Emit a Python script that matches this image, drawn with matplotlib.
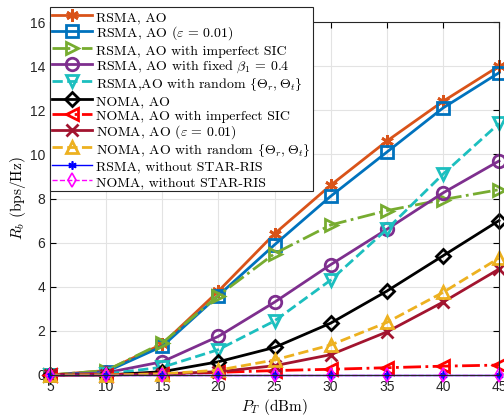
import numpy as np
from matplotlib import pyplot as plt

plt.rcParams['mathtext.fontset'] = 'cm'
plt.rcParams['axes.unicode_minus'] = False

pt = [5, 10, 15, 20, 25, 30, 35, 40, 45]

rsma_ao = [0.0, 0.2, 1.4, 3.8, 6.4, 8.6, 10.6, 12.4, 14.0]
rsma_eps = [0.0, 0.15, 1.3, 3.6, 5.9, 8.1, 10.1, 12.1, 13.7]
rsma_isic = [0.0, 0.2, 1.45, 3.6, 5.5, 6.8, 7.45, 7.95, 8.4]
rsma_fixed = [0.0, 0.1, 0.6, 1.75, 3.3, 5.0, 6.6, 8.25, 9.7]
rsma_rand = [0.0, 0.05, 0.35, 1.15, 2.45, 4.3, 6.6, 9.1, 11.4]
noma_ao = [0.0, 0.0, 0.15, 0.6, 1.25, 2.35, 3.8, 5.4, 7.0]
noma_isic = [0.0, 0.02, 0.05, 0.12, 0.2, 0.26, 0.33, 0.4, 0.45]
noma_eps = [0.0, 0.0, 0.05, 0.15, 0.42, 0.92, 1.95, 3.3, 4.8]
noma_rand = [0.0, 0.0, 0.05, 0.22, 0.68, 1.36, 2.38, 3.74, 5.3]
rsma_wo = [0.0, 0.0, 0.0, 0.0, 0.0, 0.0, 0.0, 0.0, 0.0]
noma_wo = [0.0, 0.0, 0.0, 0.0, 0.0, 0.0, 0.0, 0.0, 0.0]

labels = [
    'RSMA, AO',
    r'RSMA, AO ($\varepsilon\,=\,0.01$)',
    'RSMA, AO with imperfect SIC',
    r'RSMA, AO with fixed $\beta_1\,=\,0.4$',
    r'RSMA,AO with random $\lbrace\mathbf{\Theta}_r,\mathbf{\Theta}_t\rbrace$',
    'NOMA, AO',
    'NOMA, AO with imperfect SIC',
    r'NOMA, AO ($\varepsilon\,=\,0.01$)',
    r'NOMA, AO with random $\lbrace\mathbf{\Theta}_r,\mathbf{\Theta}_t\rbrace$',
    'RSMA, without STAR-RIS',
    'NOMA, without STAR-RIS',
]

fig = plt.figure(figsize=(5.04, 4.18), dpi=100)
ax = fig.add_axes([50/504, 43/418, 449/504, 353/418])

ast = (6, 2, 0)
lw = 2
kw = dict(clip_on=False)
ax.plot(pt, rsma_ao, '-', color='#D95319', lw=lw, marker=ast, ms=9, mew=2, label=labels[0], **kw)
ax.plot(pt, rsma_eps, '-', color='#0072BD', lw=lw, marker='s', ms=8, mfc='none', mew=2, label=labels[1], **kw)
ax.plot(pt, rsma_isic, '-.', color='#77AC30', lw=lw, marker='>', ms=9, mfc='none', mew=2, label=labels[2], **kw)
ax.plot(pt, rsma_fixed, '-', color='#7E2F8E', lw=lw, marker='o', ms=9, mfc='none', mew=2, label=labels[3], **kw)
ax.plot(pt, rsma_rand, '--', color='#1CBFBF', lw=lw, marker='v', ms=9, mfc='none', mew=2, label=labels[4], **kw)
ax.plot(pt, noma_ao, '-', color='black', lw=lw, marker='D', ms=7, mfc='none', mew=2, label=labels[5], **kw)
ax.plot(pt, noma_isic, '-.', color='#FF0000', lw=lw, marker='<', ms=9, mfc='none', mew=2, label=labels[6], **kw)
ax.plot(pt, noma_eps, '-', color='#A2142F', lw=lw, marker='x', ms=8, mew=2, label=labels[7], **kw)
ax.plot(pt, noma_rand, '--', color='#EDB120', lw=lw, marker='^', ms=9, mfc='none', mew=2, label=labels[8], **kw)
ax.plot(pt, rsma_wo, '-', color='#0000FF', lw=1, marker=ast, ms=6, mew=1.2, label=labels[9], **kw)
ax.plot(pt, noma_wo, '--', color='#FF00FF', lw=1, marker='d', ms=7, mfc='none', mew=1.2, label=labels[10], **kw)

ax.set_xlim(5, 45)
ax.set_ylim(0, 16)
ax.set_xticks(pt)
ax.set_yticks(np.arange(0, 17, 2))
ax.grid(True, color='#E3E3E3', lw=0.8)
ax.set_axisbelow(True)
ax.tick_params(direction='in', labelsize=10, labelcolor='#262626', length=4,
               top=True, right=True)
for t in ax.get_xticklabels() + ax.get_yticklabels():
    t.set_fontfamily('Liberation Sans')
for s in ax.spines.values():
    s.set_color('#262626')
    s.set_linewidth(0.8)

ax.set_xlabel(r'$P_T$ (dBm)', fontfamily='cmr10', fontsize=11, labelpad=2)
ax.set_ylabel(r'$R_b$ (bps/Hz)', fontfamily='cmr10', fontsize=11, labelpad=1)

leg = ax.legend(loc='upper left', bbox_to_anchor=(50/504, 1 - 7/418),
                bbox_transform=fig.transFigure, borderaxespad=0,
                prop={'family': 'cmr10', 'size': 10}, handlelength=2.9,
                handleheight=1.33, handletextpad=0.25, labelspacing=0.0,
                borderpad=0.15, fancybox=False, framealpha=1,
                edgecolor='#262626')
leg.get_frame().set_linewidth(0.8)
leg.set_zorder(5)

plt.savefig('out.png', dpi=100)
